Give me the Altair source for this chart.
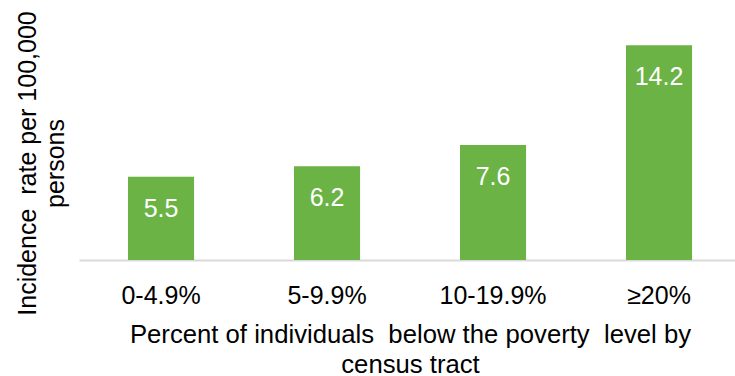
import altair as alt
import pandas as pd

# Incidence rate per 100,000 persons by census-tract poverty level
categories = ["0-4.9%", "5-9.9%", "10-19.9%", "\u226520%"]
rates = [5.5, 6.2, 7.6, 14.2]

df = pd.DataFrame({"poverty": categories, "rate": rates})

FONT = "Liberation Sans"
GREEN = "#6ab344"

x_enc = alt.X(
    "poverty:N",
    sort=categories,
    scale=alt.Scale(paddingInner=0.602, paddingOuter=0.277, align=0.533),
    axis=alt.Axis(
        title=["Percent of individuals\u00a0 below the poverty\u00a0 level by", "census tract"],
        titleFont=FONT,
        titleFontSize=25.7,
        titleFontWeight="normal",
        titleColor="#000000",
        titleBaseline="alphabetic",
        titleAlign="center",
        titleLineHeight=30,
        titleX=331,
        titleY=82,
        labelFont=FONT,
        labelFontSize=25,
        labelColor="#000000",
        labelAngle=0,
        labelBaseline="alphabetic",
        labelPadding=43,
        ticks=False,
        domainColor="#d9d9d9",
        domainWidth=2,
        grid=False,
    ),
)

y_enc = alt.Y(
    "rate:Q",
    scale=alt.Scale(domain=[0, 16], nice=False),
    axis=alt.Axis(
        title=["Incidence\u00a0 rate per 100,000", "persons"],
        titleFont=FONT,
        titleFontSize=25,
        titleFontWeight="normal",
        titleColor="#000000",
        titleAngle=-90,
        titleBaseline="alphabetic",
        titleAlign="center",
        titleLineHeight=28,
        titleX=-44,
        titleY=145,
        labels=False,
        ticks=False,
        domain=False,
        grid=False,
    ),
)

bars = alt.Chart(df).mark_bar(color=GREEN).encode(x=x_enc, y=y_enc)

labels = alt.Chart(df).mark_text(
    font=FONT,
    fontSize=25,
    color="white",
    baseline="alphabetic",
    align="center",
    dy=40,
).encode(
    x=alt.X("poverty:N", sort=categories),
    y="rate:Q",
    text=alt.Text("rate:Q", format=".1f"),
)

chart = (
    alt.layer(bars, labels)
    .properties(
        width=656,
        height=242,
        autosize=alt.AutoSizeParams(type="none"),
        padding={"left": 79, "top": 18, "right": 0, "bottom": 116},
        background="white",
    )
    .configure_view(stroke=None)
)

chart.save("out.html", embed_options={"renderer": "svg", "actions": False})
